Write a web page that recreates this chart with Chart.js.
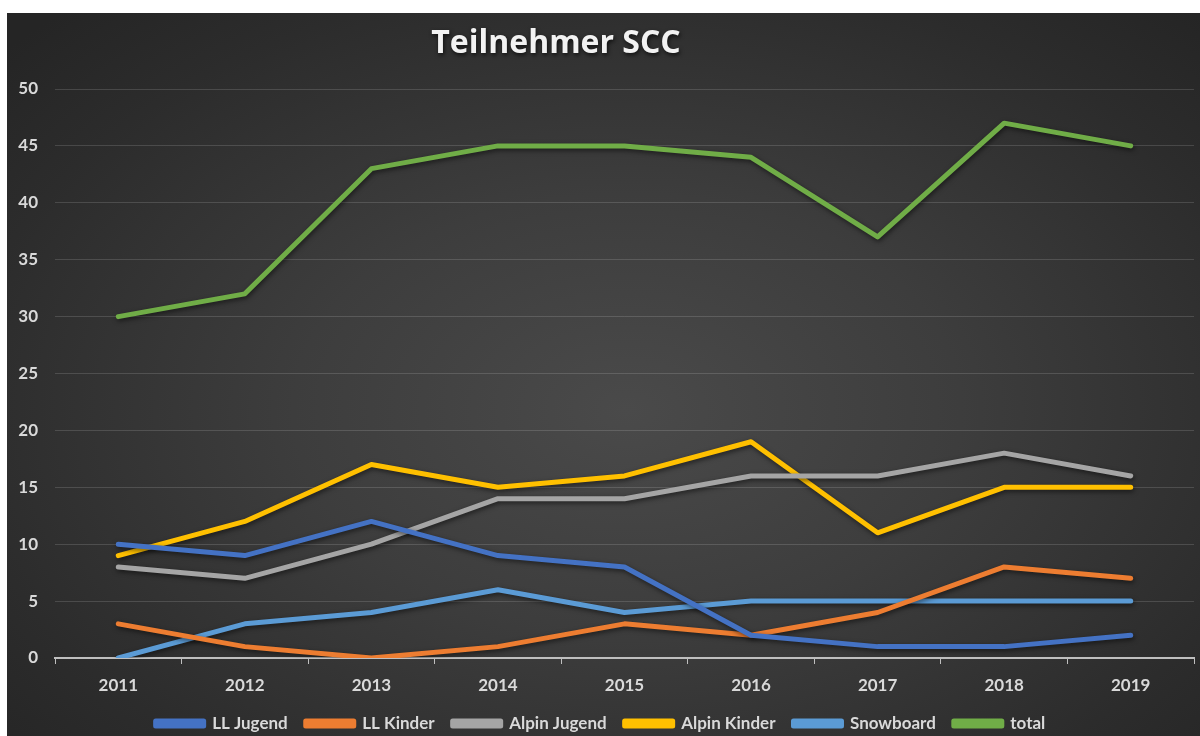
<!DOCTYPE html>
<html>
<head>
<meta charset="utf-8">
<script src="https://cdn.jsdelivr.net/npm/chart.js@4.4.1/dist/chart.umd.min.js"></script>
<style>
  html, body { margin: 0; padding: 0; background: #ffffff; }
  body { width: 1200px; height: 736px; overflow: hidden; position: relative; }
  #wrap {
    position: absolute; left: 7px; top: 13px; width: 1193px; height: 723px;
    background: radial-gradient(ellipse 70% 75% at 52% 55%, #4a4a4a 0%, #3d3d3d 40%, #2c2c2c 80%, #252525 100%);
  }
  canvas { display: block; }
</style>
</head>
<body>
<div id="wrap"><canvas id="c" width="1193" height="723"></canvas></div>
<script>
const titleText = "Teilnehmer SCC";
const years = ["2011", "2012", "2013", "2014", "2015", "2016", "2017", "2018", "2019"];
const llJugend    = [10, 9, 12, 9, 8, 2, 1, 1, 2];
const llKinder    = [3, 1, 0, 1, 3, 2, 4, 8, 7];
const alpinJugend = [8, 7, 10, 14, 14, 16, 16, 18, 16];
const alpinKinder = [9, 12, 17, 15, 16, 19, 11, 15, 15];
const snowboard   = [0, 3, 4, 6, 4, 5, 5, 5, 5];
const total       = [30, 32, 43, 45, 45, 44, 37, 47, 45];
const seriesNames = ["LL Jugend", "LL Kinder", "Alpin Jugend", "Alpin Kinder", "Snowboard", "total"];
const seriesColors = ["#4472C4", "#ED7D31", "#A5A5A5", "#FFC000", "#5B9BD5", "#70AD47"];
const seriesData = [llJugend, llKinder, alpinJugend, alpinKinder, snowboard, total];

const FONT = "Lato, 'Open Sans', sans-serif";

const shadowPlugin = {
  id: 'lineShadow',
  beforeDatasetDraw(chart) {
    const ctx = chart.ctx;
    ctx.save();
    ctx.shadowColor = 'rgba(0,0,0,0.55)';
    ctx.shadowBlur = 5;
    ctx.shadowOffsetX = 1;
    ctx.shadowOffsetY = 2;
  },
  afterDatasetDraw(chart) {
    chart.ctx.restore();
  }
};

const titlePlugin = {
  id: 'customTitle',
  afterDraw(chart) {
    const ctx = chart.ctx;
    ctx.save();
    ctx.font = "bold 32px 'Open Sans', sans-serif";
    ctx.fillStyle = '#f2f2f2';
    ctx.textAlign = 'center';
    ctx.textBaseline = 'middle';
    ctx.shadowColor = 'rgba(0,0,0,0.7)';
    ctx.shadowBlur = 4;
    ctx.shadowOffsetX = 1;
    ctx.shadowOffsetY = 2;
    ctx.fillText(titleText, 549, 31);
    ctx.restore();
  }
};

const datasets = seriesNames.map((name, i) => ({
  label: name,
  data: seriesData[i],
  borderColor: seriesColors[i],
  backgroundColor: seriesColors[i],
  borderWidth: 5,
  pointRadius: 0,
  pointHoverRadius: 0,
  tension: 0,
  borderCapStyle: 'round',
  borderJoinStyle: 'round',
  fill: false
}));

new Chart(document.getElementById('c'), {
  type: 'line',
  data: { labels: years, datasets },
  plugins: [shadowPlugin, titlePlugin],
  options: {
    responsive: false,
    animation: false,
    layout: { padding: { top: 76, right: 6, left: 0, bottom: 0 } },
    plugins: {
      title: { display: false },
      tooltip: { enabled: false },
      legend: {
        position: 'bottom',
        maxHeight: 39,
        labels: {
          color: '#d9d9d9',
          font: { family: FONT, size: 17, weight: 'bold' },
          boxWidth: 48,
          boxHeight: 5,
          padding: 18
        }
      }
    },
    scales: {
      x: {
        offset: true,
        grid: { drawOnChartArea: false, drawTicks: true, tickLength: 6, color: '#bfbfbf', offset: true },
        border: { display: true, color: '#bfbfbf', width: 2 },
        ticks: { color: '#d9d9d9', font: { family: FONT, size: 17, weight: 'bold' }, padding: 11 },
        afterFit(scale) { scale.height = 39; }
      },
      y: {
        min: 0, max: 50,
        ticks: { stepSize: 5, color: '#d9d9d9', font: { family: FONT, size: 17, weight: 'bold' }, padding: 17 },
        grid: { color: 'rgba(255,255,255,0.14)', drawTicks: false, lineWidth: 1 },
        border: { display: false },
        afterFit(scale) { scale.width = 48; }
      }
    }
  }
});
</script>
</body>
</html>
